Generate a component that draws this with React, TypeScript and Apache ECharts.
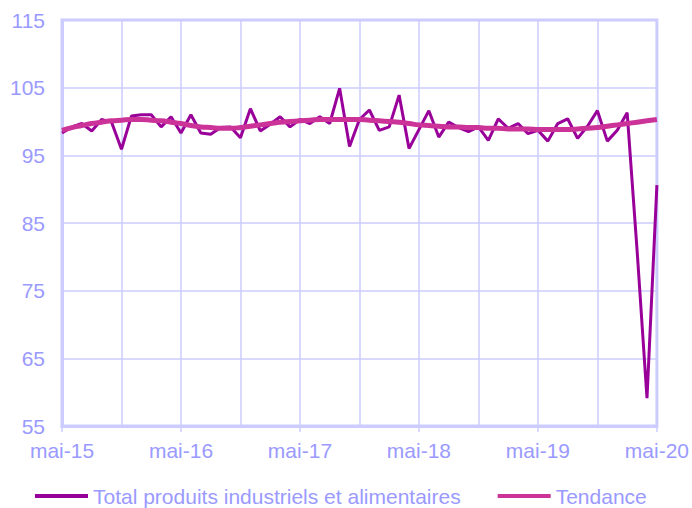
import React, { useEffect, useRef } from "react";
import * as echarts from "echarts";

const monthNames = ["janv", "févr", "mars", "avr", "mai", "juin", "juil", "août", "sept", "oct", "nov", "déc"];
const startYear = 15;
const startMonth = 4; // mai
const categories: string[] = [];
for (let i = 0; i < 61; i++) {
  const m = (startMonth + i) % 12;
  const y = startYear + Math.floor((startMonth + i) / 12);
  categories.push(`${monthNames[m]}-${y}`);
}

const totalValues = [
  98.3, 99.2, 99.7, 98.6, 100.3, 99.9, 95.9, 100.8, 101.0, 101.0, 99.2, 100.7,
  98.3, 101.0, 98.3, 98.1, 99.1, 99.2, 97.6, 101.9, 98.6, 99.6, 100.7, 99.2,
  100.3, 99.7, 100.7, 99.7, 104.9, 96.3, 100.3, 101.7, 98.7, 99.2, 103.9, 96.0,
  98.8, 101.6, 97.7, 99.9, 99.1, 98.5, 99.2, 97.2, 100.4, 99.0, 99.7, 98.2,
  98.7, 97.1, 99.7, 100.4, 97.5, 99.3, 101.6, 97.1, 98.7, 101.3, 81.0, 59.1,
  90.6,
];

const trendValues = [
  98.7, 99.1, 99.4, 99.7, 99.9, 100.1, 100.2, 100.3, 100.3, 100.2, 100.1, 99.9,
  99.7, 99.4, 99.2, 99.1, 99.0, 99.0, 99.1, 99.3, 99.5, 99.7, 99.9, 100.0,
  100.1, 100.2, 100.3, 100.3, 100.3, 100.3, 100.3, 100.2, 100.1, 100.0, 99.9, 99.7,
  99.5, 99.4, 99.3, 99.2, 99.2, 99.1, 99.1, 99.0, 99.0, 98.9, 98.9, 98.9,
  98.8, 98.8, 98.8, 98.8, 98.9, 99.0, 99.1, 99.3, 99.5, 99.7, 99.9, 100.1,
  100.3,
];

const seriesNames = ["Total produits industriels et alimentaires", "Tendance"];

export default function App() {
  const ref = useRef<HTMLDivElement>(null);
  useEffect(() => {
    if (!ref.current) return;
    const chart = echarts.init(ref.current, undefined, { renderer: "svg" });
    const txt = "#9a9aff";
    const grid = "#ccccff";
    chart.setOption({
      animation: false,
      textStyle: { fontFamily: "Liberation Sans, Arial, sans-serif" },
      grid: {
        left: 62,
        right: 34,
        top: 20,
        bottom: 82,
        show: true,
        borderColor: grid,
        borderWidth: 3,
      },
      legend: {
        top: 485,
        left: 35,
        padding: 0,
        icon: "rect",
        itemWidth: 53,
        itemHeight: 4,
        itemGap: 37,
        textStyle: { color: txt, fontSize: 21, lineHeight: 22, fontFamily: "Liberation Sans, Arial, sans-serif" },
        data: seriesNames,
      },
      xAxis: {
        type: "category",
        data: categories,
        boundaryGap: false,
        axisLine: { lineStyle: { color: grid, width: 3 } },
        axisTick: { show: true, interval: 11, length: 6, lineStyle: { color: grid, width: 1.5 } },
        axisLabel: {
          interval: 11,
          color: txt,
          fontSize: 21,
          margin: 14,
        },
        splitLine: { show: true, interval: 5, lineStyle: { color: grid, width: 1.5 } },
      },
      yAxis: {
        type: "value",
        min: 55,
        max: 115,
        interval: 10,
        axisLine: { show: true, lineStyle: { color: grid, width: 3 } },
        axisTick: { show: false },
        axisLabel: { color: txt, fontSize: 21, margin: 17 },
        splitLine: { show: true, lineStyle: { color: grid, width: 1.5 } },
      },
      series: [
        {
          name: seriesNames[0],
          type: "line",
          data: totalValues,
          symbol: "none",
          lineStyle: { color: "#990099", width: 3 },
          itemStyle: { color: "#990099" },
          z: 3,
        },
        {
          name: seriesNames[1],
          type: "line",
          data: trendValues,
          smooth: true,
          symbol: "none",
          lineStyle: { color: "#cc3399", width: 5 },
          itemStyle: { color: "#cc3399" },
          z: 4,
        },
      ],
    });
    return () => chart.dispose();
  }, []);
  return <div ref={ref} style={{ width: 692, height: 508, position: "absolute", left: 0, top: 0 }} />;
}
